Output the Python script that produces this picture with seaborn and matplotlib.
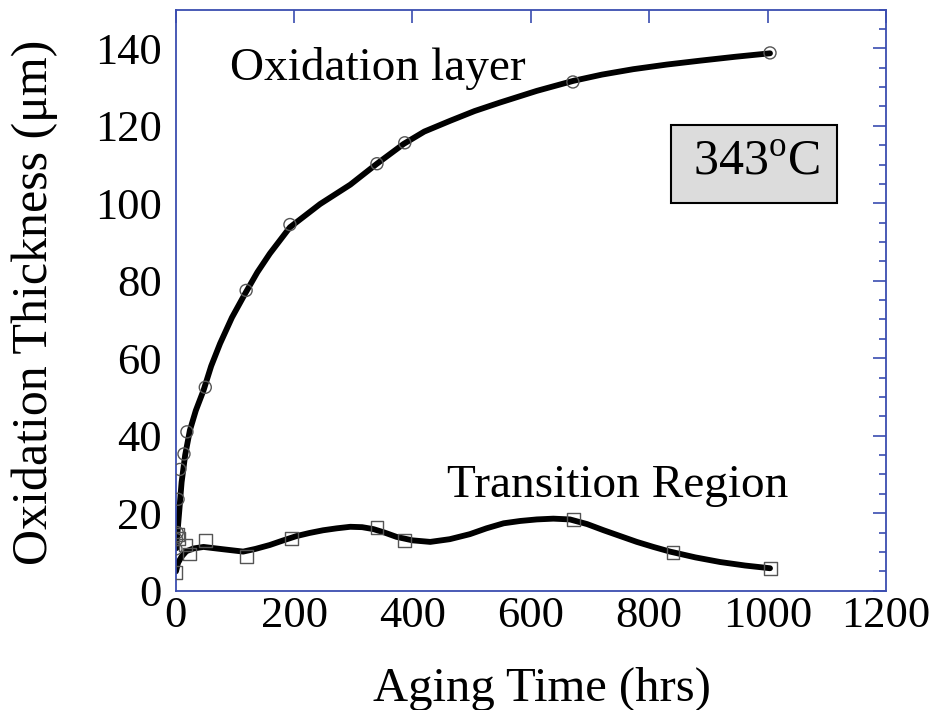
import matplotlib
matplotlib.use('Agg')
import matplotlib.pyplot as plt
import seaborn as sns
import pandas as pd
from matplotlib.patches import Rectangle
from matplotlib.ticker import MultipleLocator

# measured points (aging time in hrs, thickness in um)
ox_time = [0.5, 1.5, 2.5, 4, 7, 14, 19, 50, 119, 193, 340, 387, 671, 1004]
ox_thick = [10.8, 13.2, 15.0, 23.6, 31.3, 35.3, 41.0, 52.5, 77.5, 94.5, 110.2, 115.6, 131.3, 138.8]

tr_time = [0.5, 2.5, 4.5, 16, 23, 50, 120, 196, 340, 387, 672, 840, 1005]
tr_thick = [4.8, 14.6, 13.5, 11.8, 9.5, 13.0, 8.8, 13.4, 16.4, 13.0, 18.4, 9.9, 5.7]

# fitted curves
ox_fit_time = [1.5, 3, 6, 10, 16, 24, 34, 47, 60, 75, 95, 117, 138, 159, 193, 244, 295, 340, 385, 420,
               464, 505, 548, 610, 672, 720, 773, 830, 886, 945, 1004]
ox_fit_thick = [11, 15, 20.5, 28, 35, 41.4, 46.5, 51.7, 58, 63.8, 70.5, 76.6, 82.2, 87, 93.8, 99.8, 104.8,
                110.2, 115.3, 118.5, 121.3, 123.8, 126, 129, 131.6, 133.2, 134.6, 135.8, 136.8, 137.8, 138.7]

tr_fit_time = [0.5, 4, 10, 18, 30, 47, 80, 114, 135, 159, 180, 204, 226, 249, 272, 295, 315, 334, 353, 373,
               400, 430, 463, 497, 525, 554, 582, 610, 638, 666, 695, 723, 751, 779, 807, 835, 878, 920, 962, 1004]
tr_fit_thick = [5, 7.2, 8.8, 10.2, 10.9, 11.3, 10.7, 10.1, 10.8, 11.8, 12.9, 14.1, 14.9, 15.6, 16.1, 16.5,
                16.4, 15.9, 15.0, 13.9, 13.0, 12.6, 13.3, 14.6, 16.1, 17.4, 18.0, 18.4, 18.6, 18.4, 17.2,
                15.6, 14.1, 12.6, 11.3, 10.1, 8.6, 7.4, 6.5, 5.8]

sns.set_theme(style='white')
plt.rcParams['font.family'] = ['Liberation Serif', 'DejaVu Serif']
plt.rcParams['mathtext.fontset'] = 'custom'
plt.rcParams['mathtext.rm'] = 'Liberation Serif'
plt.rcParams['text.color'] = 'black'
plt.rcParams['axes.labelcolor'] = 'black'

axis_blue = '#3a4db0'

fig = plt.figure(figsize=(9.38, 7.1), dpi=100)
ax = fig.add_axes([0.1873, 0.168, 0.7573, 0.8186])

ox_fit = pd.DataFrame({'t': ox_fit_time, 'y': ox_fit_thick})
tr_fit = pd.DataFrame({'t': tr_fit_time, 'y': tr_fit_thick})
sns.lineplot(data=ox_fit, x='t', y='y', color='black', lw=4.2, sort=False, estimator=None, ax=ax)
sns.lineplot(data=tr_fit, x='t', y='y', color='black', lw=4.2, sort=False, estimator=None, ax=ax)

ox_df = pd.DataFrame({'t': ox_time, 'y': ox_thick})
tr_df = pd.DataFrame({'t': tr_time, 'y': tr_thick})
sns.scatterplot(data=ox_df, x='t', y='y', marker='o', s=75, facecolor='none',
                edgecolor='#555555', linewidth=1.0, ax=ax, zorder=3)
sns.scatterplot(data=tr_df, x='t', y='y', marker='s', s=85, facecolor='none',
                edgecolor='#555555', linewidth=1.0, ax=ax, zorder=3)

ax.set_xlim(0, 1200)
ax.set_ylim(0, 150)
ax.xaxis.set_major_locator(MultipleLocator(200))
ax.yaxis.set_major_locator(MultipleLocator(20))
ax.yaxis.set_minor_locator(MultipleLocator(5))
ax.set_yticks([0, 20, 40, 60, 80, 100, 120, 140])

for s in ax.spines.values():
    s.set_visible(True)
    s.set_color(axis_blue)
    s.set_linewidth(1.3)

ax.tick_params(which='both', direction='in', top=True, right=True, color=axis_blue,
               width=1.2, labelsize=32, labelcolor='black')
ax.tick_params(which='major', length=9.5)
ax.tick_params(which='minor', length=5)
ax.tick_params(axis='x', which='major', length=9, pad=4)
ax.tick_params(axis='y', which='major', pad=10)

ax.set_xlabel('Aging Time (hrs)', fontsize=35)
ax.set_ylabel('Oxidation Thickness (μm)', fontsize=36)
ax.xaxis.set_label_coords(0.5157, -0.131)
ax.yaxis.set_label_coords(-0.165, 0.496)

ax.text(92, 134.7, 'Oxidation layer', fontsize=34, ha='left', va='center')
ax.text(458, 27.2, 'Transition Region', fontsize=34, ha='left', va='center')

ax.add_patch(Rectangle((0.6973, 0.6676), 0.2333, 0.1337, transform=ax.transAxes,
                       facecolor='#dcdcdc', edgecolor='black', lw=1.5, zorder=4))
ax.text(0.817, 0.736, '343$^{\\mathrm{o}}$C', transform=ax.transAxes, fontsize=36,
        ha='center', va='center', zorder=5)

plt.savefig('out.png', dpi=100)
